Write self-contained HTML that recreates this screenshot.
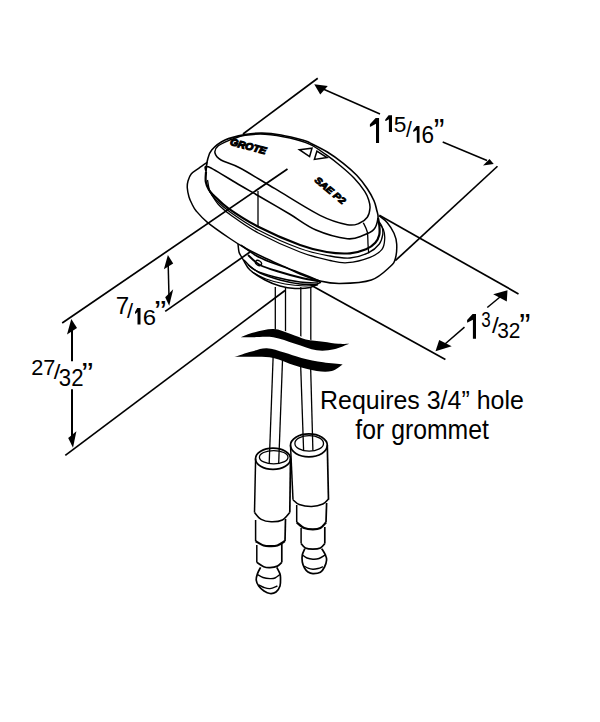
<!DOCTYPE html>
<html><head><meta charset="utf-8"><style>
html,body{margin:0;padding:0;background:#fff;}
body{width:600px;height:722px;overflow:hidden;}
svg{display:block;font-family:"Liberation Sans",sans-serif;}
</style></head><body>
<svg width="600" height="722" viewBox="0 0 600 722">
<rect width="600" height="722" fill="#fff"/>
<line x1="317.75" y1="78.25" x2="243.00" y2="134.00" stroke="#000" stroke-width="1.70"/>
<line x1="497.50" y1="166.25" x2="395.30" y2="260.70" stroke="#000" stroke-width="1.70"/>
<line x1="380.00" y1="114.00" x2="322.00" y2="88.50" stroke="#000" stroke-width="1.50"/>
<polygon points="314.25,84.25 327.75,86.00 320.25,94.50" fill="#000"/>
<line x1="442.70" y1="142.00" x2="487.00" y2="160.50" stroke="#000" stroke-width="1.50"/>
<polygon points="493.75,164.00 483.00,165.50 489.50,159.00" fill="#000"/>
<line x1="379.30" y1="215.30" x2="518.50" y2="293.90" stroke="#000" stroke-width="1.70"/>
<line x1="310.70" y1="285.00" x2="445.40" y2="359.40" stroke="#000" stroke-width="1.70"/>
<line x1="487.30" y1="307.50" x2="500.00" y2="297.00" stroke="#000" stroke-width="1.50"/>
<polygon points="507.50,290.30 493.20,294.30 506.80,301.60" fill="#000"/>
<line x1="464.50" y1="327.10" x2="445.00" y2="344.00" stroke="#000" stroke-width="1.50"/>
<polygon points="435.50,351.30 439.20,340.00 451.70,346.20" fill="#000"/>
<line x1="287.50" y1="169.00" x2="62.20" y2="323.00" stroke="#000" stroke-width="1.70"/>
<line x1="250.00" y1="252.00" x2="165.20" y2="311.40" stroke="#000" stroke-width="1.70"/>
<line x1="168.20" y1="265.00" x2="169.00" y2="297.00" stroke="#000" stroke-width="1.50"/>
<polygon points="167.90,255.10 163.90,269.30 173.20,263.50" fill="#000"/>
<polygon points="169.20,305.70 165.20,297.20 173.20,289.30" fill="#000"/>
<line x1="285.00" y1="290.50" x2="65.30" y2="455.40" stroke="#000" stroke-width="1.70"/>
<line x1="72.00" y1="330.00" x2="72.00" y2="361.30" stroke="#000" stroke-width="2.00"/>
<line x1="72.00" y1="389.30" x2="72.00" y2="440.00" stroke="#000" stroke-width="2.00"/>
<polygon points="71.30,319.10 67.00,334.40 77.00,328.10" fill="#000"/>
<polygon points="73.00,447.80 68.20,438.10 76.40,431.30" fill="#000"/>
<path d="M207.40 162.30 C206.00 163.28 201.70 166.25 199.00 168.20 C196.30 170.15 193.03 171.87 191.20 174.00 C189.37 176.13 188.65 178.67 188.00 181.00 C187.35 183.33 187.13 185.33 187.30 188.00 C187.47 190.67 188.22 194.33 189.00 197.00 C189.78 199.67 190.80 201.67 192.00 204.00 C193.20 206.33 193.63 207.95 196.20 211.00 C198.77 214.05 201.78 217.72 207.40 222.30 C213.02 226.88 223.63 234.22 229.90 238.50 C236.17 242.78 239.15 244.75 245.00 248.00 C250.85 251.25 258.33 254.83 265.00 258.00 C271.67 261.17 279.17 264.33 285.00 267.00 C290.83 269.67 294.17 271.67 300.00 274.00 C305.83 276.33 313.33 279.42 320.00 281.00 C326.67 282.58 331.45 283.67 340.00 283.50 C348.55 283.33 362.97 282.80 371.30 280.00 C379.63 277.20 386.00 270.25 390.00 266.70 C394.00 263.15 394.18 262.48 395.30 258.70 C396.42 254.92 396.92 248.23 396.70 244.00 C396.48 239.77 395.57 236.85 394.00 233.30 C392.43 229.75 389.75 225.58 387.30 222.70 C384.85 219.82 380.63 217.12 379.30 216.00" stroke="#000" stroke-width="1.50" fill="none"/>
<path d="M206.00 172.00 C206.25 170.00 206.55 163.67 207.50 160.00 C208.45 156.33 208.78 153.33 211.70 150.00 C214.62 146.67 219.45 142.57 225.00 140.00 C230.55 137.43 238.83 135.75 245.00 134.60 C251.17 133.45 256.00 133.03 262.00 133.10 C268.00 133.17 274.08 133.80 281.00 135.00 C287.92 136.20 298.67 138.98 303.50 140.30 C308.33 141.62 306.03 140.95 310.00 142.90 C313.97 144.85 321.75 148.60 327.30 152.00 C332.85 155.40 338.40 159.42 343.30 163.30 C348.20 167.18 352.70 171.07 356.70 175.30 C360.70 179.53 364.42 184.47 367.30 188.70 C370.18 192.93 372.43 197.15 374.00 200.70 C375.57 204.25 376.03 207.12 376.70 210.00 C377.37 212.88 378.45 214.78 378.00 218.00 C377.55 221.22 376.45 226.42 374.00 229.30 C371.55 232.18 367.75 233.73 363.30 235.30 C358.85 236.87 355.18 239.58 347.30 238.70 C339.42 237.82 325.55 234.07 316.00 230.00 C306.45 225.93 299.33 219.85 290.00 214.30 C280.67 208.75 268.33 201.53 260.00 196.70 C251.67 191.87 248.62 190.30 240.00 185.30 C231.38 180.30 213.97 168.92 208.30 166.70 C202.63 164.48 206.38 171.12 206.00 172.00" stroke="#000" stroke-width="1.60" fill="none"/>
<path d="M232.00 139.00 C229.67 140.17 220.83 143.67 218.00 146.00 C215.17 148.33 214.50 150.67 215.00 153.00 C215.50 155.33 216.83 157.50 221.00 160.00 C225.17 162.50 231.00 163.22 240.00 168.00 C249.00 172.78 261.67 180.82 275.00 188.70 C288.33 196.58 307.95 209.30 320.00 215.30 C332.05 221.30 340.75 223.37 347.30 224.70 C353.85 226.03 355.97 224.53 359.30 223.30 C362.63 222.07 365.52 219.85 367.30 217.30 C369.08 214.75 369.77 210.88 370.00 208.00 C370.23 205.12 369.58 202.78 368.70 200.00 C367.82 197.22 367.15 194.97 364.70 191.30 C362.25 187.63 358.00 182.22 354.00 178.00 C350.00 173.78 345.37 169.88 340.70 166.00 C336.03 162.12 331.12 158.30 326.00 154.70 C320.88 151.10 316.00 147.18 310.00 144.40 C304.00 141.62 297.50 139.70 290.00 138.00 C282.50 136.30 272.50 134.65 265.00 134.20 C257.50 133.75 250.50 134.45 245.00 135.30 C239.50 136.15 234.17 138.63 232.00 139.30" stroke="#000" stroke-width="1.50" fill="none"/>
<path d="M206.00 172.00 C205.97 173.62 205.30 178.70 205.80 181.70 C206.30 184.70 207.75 187.78 209.00 190.00 C210.25 192.22 210.08 191.95 213.30 195.00 C216.52 198.05 220.80 203.02 228.30 208.30 C235.80 213.58 246.35 220.58 258.30 226.70 C270.25 232.82 288.60 240.78 300.00 245.00 C311.40 249.22 318.37 250.62 326.70 252.00 C335.03 253.38 343.45 253.75 350.00 253.30 C356.55 252.85 361.78 251.07 366.00 249.30 C370.22 247.53 373.08 245.13 375.30 242.70 C377.52 240.27 378.63 237.60 379.30 234.70 C379.97 231.80 379.52 228.08 379.30 225.30 C379.08 222.52 378.22 219.22 378.00 218.00" stroke="#000" stroke-width="2.20" fill="none"/>
<path d="M207.50 180.00 C207.92 182.00 208.58 188.67 210.00 192.00 C211.42 195.33 212.67 196.67 216.00 200.00 C219.33 203.33 222.95 207.00 230.00 212.00 C237.05 217.00 246.63 223.92 258.30 230.00 C269.97 236.08 288.05 244.17 300.00 248.50 C311.95 252.83 321.67 254.42 330.00 256.00 C338.33 257.58 343.55 258.55 350.00 258.00 C356.45 257.45 363.82 255.03 368.70 252.70 C373.58 250.37 376.97 247.00 379.30 244.00 C381.63 241.00 382.25 237.58 382.70 234.70 C383.15 231.82 382.57 228.82 382.00 226.70 C381.43 224.58 379.75 222.78 379.30 222.00" stroke="#000" stroke-width="1.30" fill="none"/>
<path d="M209.00 190.00 C210.50 192.33 214.17 199.67 218.00 204.00 C221.83 208.33 225.28 211.17 232.00 216.00 C238.72 220.83 246.97 227.00 258.30 233.00 C269.63 239.00 288.05 247.42 300.00 252.00 C311.95 256.58 322.12 258.72 330.00 260.50 C337.88 262.28 340.63 263.23 347.30 262.70 C353.97 262.17 364.22 259.53 370.00 257.30 C375.78 255.07 379.55 252.40 382.00 249.30 C384.45 246.20 384.48 242.03 384.70 238.70 C384.92 235.37 384.20 231.75 383.30 229.30 C382.40 226.85 379.97 224.88 379.30 224.00" stroke="#000" stroke-width="1.30" fill="none"/>
<path d="M258.00 191.00 C258.00 196.83 258.00 220.17 258.00 226.00" stroke="#000" stroke-width="1.30" fill="none"/>
<path d="M363.30 222.70 C363.97 224.25 366.52 228.45 367.30 232.00 C368.08 235.55 367.77 240.45 368.00 244.00 C368.23 247.55 368.58 251.75 368.70 253.30" stroke="#000" stroke-width="1.30" fill="none"/>
<path d="M238.00 244.00 C238.17 245.33 238.50 250.00 239.00 252.00 C239.50 254.00 240.17 254.50 241.00 256.00 C241.83 257.50 242.50 258.67 244.00 261.00 C245.50 263.33 246.50 266.83 250.00 270.00 C253.50 273.17 260.00 277.33 265.00 280.00 C270.00 282.67 275.00 284.58 280.00 286.00 C285.00 287.42 290.00 288.25 295.00 288.50 C300.00 288.75 305.67 288.58 310.00 287.50 C314.33 286.42 319.17 282.92 321.00 282.00" stroke="#000" stroke-width="1.50" fill="none"/>
<path d="M241.00 245.00 C243.33 246.67 250.17 252.17 255.00 255.00 C259.83 257.83 263.33 259.33 270.00 262.00 C276.67 264.67 286.67 267.83 295.00 271.00 C303.33 274.17 315.83 279.33 320.00 281.00" stroke="#000" stroke-width="1.50" fill="none"/>
<path d="M248.00 255.00 C250.00 256.67 254.67 262.17 260.00 265.00 C265.33 267.83 273.33 269.92 280.00 272.00 C286.67 274.08 293.33 275.92 300.00 277.50 C306.67 279.08 316.67 280.83 320.00 281.50" stroke="#000" stroke-width="1.90" fill="none"/>
<path d="M244.00 260.00 C245.83 261.67 249.83 267.17 255.00 270.00 C260.17 272.83 267.50 275.00 275.00 277.00 C282.50 279.00 292.83 281.00 300.00 282.00 C307.17 283.00 315.00 282.83 318.00 283.00" stroke="#000" stroke-width="1.40" fill="none"/>
<path d="M248.00 265.00 C250.00 266.33 254.67 270.50 260.00 273.00 C265.33 275.50 273.33 278.17 280.00 280.00 C286.67 281.83 294.00 283.25 300.00 284.00 C306.00 284.75 313.33 284.42 316.00 284.50" stroke="#000" stroke-width="1.40" fill="none"/>
<path d="M252.00 272.00 C254.33 273.17 260.50 277.00 266.00 279.00 C271.50 281.00 278.50 282.83 285.00 284.00 C291.50 285.17 299.50 285.83 305.00 286.00 C310.50 286.17 315.83 285.17 318.00 285.00" stroke="#000" stroke-width="1.20" fill="none"/>
<ellipse cx="258.5" cy="263" rx="3.2" ry="2.3" transform="rotate(30 258.5 263)" fill="none" stroke="#000" stroke-width="1.4"/>
<text x="229.50" y="144.80" font-size="9.80" text-anchor="start" font-weight="bold" font-style="italic" stroke="#000" stroke-width="1.1" transform="rotate(15 229.5 144.8)" textLength="37" lengthAdjust="spacingAndGlyphs">GROTE</text>
<polygon points="299.4,149.7 312,148.2 309.6,156.5" fill="none" stroke="#000" stroke-width="1.5"/>
<polygon points="316.9,151.2 327,157.5 314.4,159.4" fill="none" stroke="#000" stroke-width="1.5"/>
<text x="314.00" y="181.00" font-size="9.20" text-anchor="start" font-weight="bold" font-style="italic" stroke="#000" stroke-width="0.9" transform="rotate(40 314 181)" textLength="37" lengthAdjust="spacingAndGlyphs">SAE P2</text>
<line x1="275.30" y1="287.00" x2="275.30" y2="345.00" stroke="#000" stroke-width="1.30"/>
<line x1="285.50" y1="287.00" x2="285.50" y2="345.00" stroke="#000" stroke-width="1.30"/>
<line x1="300.80" y1="287.00" x2="300.80" y2="345.00" stroke="#000" stroke-width="1.30"/>
<line x1="310.80" y1="287.00" x2="310.80" y2="345.00" stroke="#000" stroke-width="1.30"/>
<line x1="273.20" y1="355.00" x2="269.20" y2="463.00" stroke="#000" stroke-width="1.30"/>
<line x1="282.70" y1="355.00" x2="278.70" y2="463.00" stroke="#000" stroke-width="1.30"/>
<line x1="300.30" y1="355.00" x2="303.60" y2="450.60" stroke="#000" stroke-width="1.30"/>
<line x1="310.30" y1="355.00" x2="312.90" y2="450.60" stroke="#000" stroke-width="1.30"/>
<path d="M238 337 C255 330 275 325 300 336 C320 344 335 346 350 344 L343 365 C325 372 310 368 290 360 C270 354 255 355 234 357 Z" fill="#fff"/>
<path d="M240.80 337.30 C242.62 336.58 246.28 334.37 251.70 333.00 C257.12 331.63 266.80 328.92 273.30 329.10 C279.80 329.28 285.28 332.37 290.70 334.10 C296.12 335.83 300.38 338.23 305.80 339.50 C311.22 340.77 317.78 340.98 323.20 341.70 C328.62 342.42 333.97 343.45 338.30 343.80 C342.63 344.15 347.38 343.80 349.20 343.80 L349.20 343.80 C346.67 344.72 339.42 348.22 334.00 349.30 C328.58 350.38 323.20 351.22 316.70 350.30 C310.20 349.38 302.23 345.97 295.00 343.80 C287.77 341.63 280.52 338.38 273.30 337.30 C266.08 336.22 257.12 337.30 251.70 337.30 C246.28 337.30 242.62 337.30 240.80 337.30Z" fill="#000"/>
<path d="M234.30 356.80 C237.20 355.90 246.28 352.83 251.70 351.40 C257.12 349.97 261.38 348.02 266.80 348.20 C272.22 348.38 278.42 350.88 284.20 352.50 C289.98 354.12 295.00 356.27 301.50 357.90 C308.00 359.53 316.33 361.22 323.20 362.30 C330.07 363.38 339.45 364.05 342.70 364.40 L342.70 364.40 C340.88 365.48 336.13 369.82 331.80 370.90 C327.47 371.98 322.83 371.80 316.70 370.90 C310.57 370.00 302.23 367.67 295.00 365.50 C287.77 363.33 280.52 359.35 273.30 357.90 C266.08 356.45 258.20 356.98 251.70 356.80 C245.20 356.62 237.20 356.80 234.30 356.80Z" fill="#000"/>
<ellipse cx="273.00" cy="458.70" rx="17.50" ry="10.60" fill="none" stroke="#000" stroke-width="1.70"/>
<ellipse cx="273.70" cy="457.20" rx="14.30" ry="6.60" fill="none" stroke="#000" stroke-width="1.30"/>
<line x1="255.60" y1="458.70" x2="254.50" y2="512.50" stroke="#000" stroke-width="1.50"/>
<line x1="290.50" y1="458.70" x2="289.80" y2="512.50" stroke="#000" stroke-width="1.70"/>
<path d="M254.50 512.50 C255.62 513.65 258.42 517.85 261.20 519.40 C263.98 520.95 267.67 521.70 271.20 521.80 C274.73 521.90 279.30 521.55 282.40 520.00 C285.50 518.45 288.57 513.75 289.80 512.50" stroke="#000" stroke-width="1.60" fill="none"/>
<line x1="255.60" y1="520.00" x2="255.60" y2="541.20" stroke="#000" stroke-width="1.50"/>
<line x1="285.50" y1="519.00" x2="285.00" y2="541.00" stroke="#000" stroke-width="1.70"/>
<path d="M255.60 541.20 C256.95 541.92 261.30 544.67 263.70 545.50 C266.10 546.33 267.72 546.20 270.00 546.20 C272.28 546.20 274.90 546.37 277.40 545.50 C279.90 544.63 283.73 541.75 285.00 541.00" stroke="#000" stroke-width="2.20" fill="none"/>
<line x1="256.80" y1="545.00" x2="256.80" y2="562.40" stroke="#000" stroke-width="1.50"/>
<line x1="281.80" y1="544.00" x2="281.80" y2="562.40" stroke="#000" stroke-width="1.70"/>
<path d="M256.80 562.40 C257.95 563.12 261.50 565.83 263.70 566.70 C265.90 567.57 267.72 567.70 270.00 567.60 C272.28 567.50 275.43 566.97 277.40 566.10 C279.37 565.23 281.07 563.02 281.80 562.40" stroke="#000" stroke-width="1.70" fill="none"/>
<path d="M260.60 567.40 C260.08 568.43 258.23 571.50 257.50 573.60 C256.77 575.70 256.00 577.93 256.20 580.00 C256.40 582.07 257.40 584.17 258.70 586.00 C260.00 587.83 262.12 589.75 264.00 591.00 C265.88 592.25 268.00 593.33 270.00 593.50 C272.00 593.67 274.33 593.25 276.00 592.00 C277.67 590.75 279.25 588.33 280.00 586.00 C280.75 583.67 280.52 580.07 280.50 578.00 C280.48 575.93 280.52 575.37 279.90 573.60 C279.28 571.83 277.32 568.43 276.80 567.40" stroke="#000" stroke-width="1.70" fill="none"/>
<path d="M257.50 574.50 C258.42 575.00 260.92 576.82 263.00 577.50 C265.08 578.18 268.00 578.52 270.00 578.60 C272.00 578.68 273.35 578.68 275.00 578.00 C276.65 577.32 279.08 575.08 279.90 574.50" stroke="#000" stroke-width="1.40" fill="none"/>
<path d="M258.70 584.80 C259.58 585.25 262.12 586.87 264.00 587.50 C265.88 588.13 267.77 588.85 270.00 588.60 C272.23 588.35 276.17 586.43 277.40 586.00" stroke="#000" stroke-width="1.40" fill="none"/>
<ellipse cx="308.90" cy="445.30" rx="18.40" ry="11.50" fill="none" stroke="#000" stroke-width="1.70"/>
<ellipse cx="309.20" cy="443.40" rx="14.30" ry="7.80" fill="none" stroke="#000" stroke-width="1.30"/>
<line x1="290.50" y1="445.30" x2="293.00" y2="499.80" stroke="#000" stroke-width="1.50"/>
<line x1="327.30" y1="445.30" x2="328.50" y2="499.80" stroke="#000" stroke-width="1.70"/>
<path d="M293.00 499.80 C294.03 500.58 296.08 503.38 299.20 504.50 C302.32 505.62 307.75 506.58 311.70 506.50 C315.65 506.42 320.10 505.25 322.90 504.00 C325.70 502.75 327.57 499.83 328.50 499.00" stroke="#000" stroke-width="1.60" fill="none"/>
<line x1="296.70" y1="505.00" x2="296.70" y2="522.40" stroke="#000" stroke-width="1.50"/>
<line x1="326.60" y1="503.00" x2="326.00" y2="522.40" stroke="#000" stroke-width="1.70"/>
<path d="M296.70 522.40 C297.95 523.33 301.50 526.85 304.20 528.00 C306.90 529.15 310.20 529.30 312.90 529.30 C315.60 529.30 318.22 529.15 320.40 528.00 C322.58 526.85 325.07 523.33 326.00 522.40" stroke="#000" stroke-width="2.20" fill="none"/>
<line x1="301.10" y1="528.00" x2="301.10" y2="543.60" stroke="#000" stroke-width="1.50"/>
<line x1="324.80" y1="527.00" x2="324.80" y2="543.60" stroke="#000" stroke-width="1.70"/>
<path d="M301.10 543.60 C301.82 544.33 303.43 547.07 305.40 548.00 C307.37 548.93 310.40 549.20 312.90 549.20 C315.40 549.20 318.42 548.93 320.40 548.00 C322.38 547.07 324.07 544.33 324.80 543.60" stroke="#000" stroke-width="1.70" fill="none"/>
<path d="M304.80 548.60 C304.38 549.65 302.72 552.67 302.30 554.90 C301.88 557.13 301.93 559.82 302.30 562.00 C302.67 564.18 303.55 566.33 304.50 568.00 C305.45 569.67 306.60 571.07 308.00 572.00 C309.40 572.93 310.83 573.55 312.90 573.60 C314.97 573.65 318.47 573.40 320.40 572.30 C322.33 571.20 323.47 569.05 324.50 567.00 C325.53 564.95 326.45 562.02 326.60 560.00 C326.75 557.98 326.22 556.80 325.40 554.90 C324.58 553.00 322.32 549.65 321.70 548.60" stroke="#000" stroke-width="1.70" fill="none"/>
<path d="M302.30 554.90 C303.08 555.42 305.23 557.28 307.00 558.00 C308.77 558.72 310.90 559.12 312.90 559.20 C314.90 559.28 316.92 559.22 319.00 558.50 C321.08 557.78 324.33 555.50 325.40 554.90" stroke="#000" stroke-width="1.40" fill="none"/>
<path d="M304.20 566.10 C304.83 566.45 306.55 567.68 308.00 568.20 C309.45 568.72 311.23 569.15 312.90 569.20 C314.57 569.25 316.33 568.92 318.00 568.50 C319.67 568.08 322.08 567.00 322.90 566.70" stroke="#000" stroke-width="1.40" fill="none"/>
<polygon points="375.70,117.90 379.06,117.90 379.06,143.06 376.00,143.06 376.00,123.81 370.50,126.71 369.90,126.71 369.90,124.19" fill="#000"/>
<polygon points="388.60,115.30 392.00,115.30 392.00,131.90 388.90,131.90 388.90,119.20 385.90,121.11 385.30,121.11 385.30,119.45" fill="#000"/>
<text x="0" y="0" font-size="100" transform="matrix(0.22737 0 0 0.22754 393.791 131.900)" >5</text>
<text x="0" y="0" font-size="100" transform="matrix(0.21091 0 0 0.21633 406.000 136.684)">/</text>
<polygon points="416.50,126.00 419.50,126.00 419.50,142.70 416.80,142.70 416.80,129.92 413.80,131.84 413.20,131.84 413.20,130.18" fill="#000"/>
<text x="0" y="0" font-size="100" transform="matrix(0.22609 0 0 0.23143 421.470 142.700)" >6</text>
<text x="0" y="0" font-size="100" transform="matrix(0.32157 0 0 0.33333 433.714 142.000)">&#8221;</text>
<polygon points="472.60,313.90 476.00,313.90 476.00,338.80 472.90,338.80 472.90,319.75 467.70,322.62 467.10,322.62 467.10,320.12" fill="#000"/>
<text x="0" y="0" font-size="100" transform="matrix(0.17021 0 0 0.22857 481.319 327.000)" >3</text>
<text x="0" y="0" font-size="100" transform="matrix(0.24364 0 0 0.21769 492.000 332.782)">/</text>
<text x="0" y="0" font-size="100" transform="matrix(0.20882 0 0 0.22857 497.165 338.300)" >32</text>
<text x="0" y="0" font-size="100" transform="matrix(0.33725 0 0 0.32444 519.351 337.387)">&#8221;</text>
<text x="0" y="0" font-size="100" transform="matrix(0.24176 0 0 0.23188 115.791 314.000)" >7</text>
<text x="0" y="0" font-size="100" transform="matrix(0.21818 0 0 0.21088 127.000 318.289)">/</text>
<polygon points="137.20,308.00 140.50,308.00 140.50,324.50 137.50,324.50 137.50,311.88 135.60,313.77 135.00,313.77 135.00,312.12" fill="#000"/>
<text x="0" y="0" font-size="100" transform="matrix(0.23913 0 0 0.22857 142.804 324.500)" >6</text>
<text x="0" y="0" font-size="100" transform="matrix(0.35294 0 0 0.28889 154.588 320.933)">&#8221;</text>
<text x="0" y="0" font-size="100" transform="matrix(0.21782 0 0 0.22857 31.211 374.700)" >27</text>
<text x="0" y="0" font-size="100" transform="matrix(0.24000 0 0 0.20816 53.700 379.092)">/</text>
<text x="0" y="0" font-size="100" transform="matrix(0.22157 0 0 0.23857 58.814 386.000)" >32</text>
<text x="0" y="0" font-size="100" transform="matrix(0.34118 0 0 0.29778 81.635 382.547)">&#8221;</text>
<text x="0" y="0" font-size="100" transform="matrix(0.24947 0 0 0.26483 320.004 408.800)" >Requires 3/4&#8221; hole</text>
<text x="0" y="0" font-size="100" transform="matrix(0.24786 0 0 0.27586 355.328 439.000)" >for grommet</text>
</svg></body></html>
